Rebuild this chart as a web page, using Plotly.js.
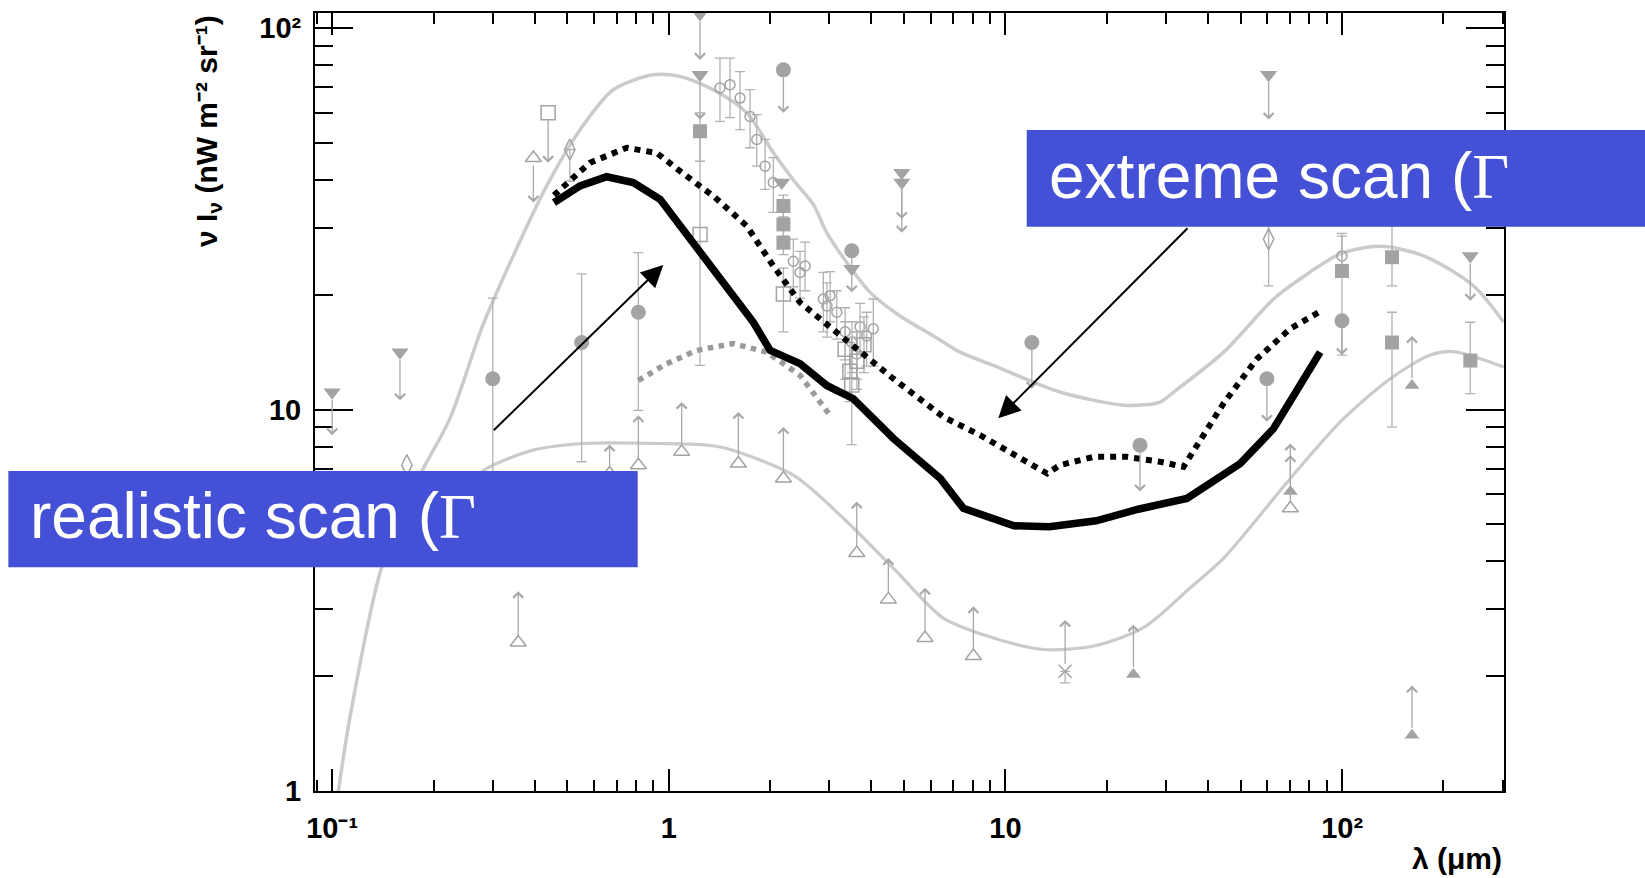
<!DOCTYPE html>
<html>
<head>
<meta charset="utf-8">
<script src="https://cdn.plot.ly/plotly-3.0.1.min.js"></script>
<style>html,body{margin:0;padding:0;background:#fff;}#chart{width:1645px;height:878px;}</style>
</head>
<body>
<div id="chart"></div>
<script>
// ---------------- data ----------------
// wavelength in micrometres, intensity in nW m^-2 sr^-1
const solidX = [0.456,0.545,0.654,0.784,0.942,1.08,1.238,1.486,1.783,2.0,2.454,2.945,3.534,4.647,6.4,7.5,9.2,10.6,13.5,18.6,24.8,34.6,49.8,62.6,86.1];
const solidY = [34.9,38.6,40.8,39.4,35.6,30.3,25.8,21.1,16.95,14.3,13.2,11.57,10.68,8.4,6.6,5.51,5.19,4.96,4.93,5.11,5.48,5.85,7.22,8.92,14.15];

const extremeX = [0.456,0.583,0.75,0.921,1.08,1.356,1.704,2.044,2.454,3.155,3.963,4.647,6.54,8.41,13.3,14.5,18.3,22.9,28.8,33.8,44.5,55.9,70.2,87.2];
const extremeY = [36.5,44.4,48.6,47.1,42.2,36.3,30.3,23.8,19.1,15.96,13.45,12.05,9.57,8.57,6.80,7.15,7.52,7.52,7.30,7.08,10.4,13.6,16.3,18.2];

const grayDotX = [0.812,0.986,1.21,1.555,1.954,2.454,3.013];
const grayDotY = [11.93,13.2,14.3,14.9,14.15,12.3,9.66];

const upperModelX = [0.104,0.1129,0.14,0.178,0.2237,0.28,0.345,0.4337,0.545,0.684,0.899,1.08,1.356,1.704,2.05,2.344,2.688,2.945,3.379,3.963,4.864,6.11,7.33,9.21,14.5,22.9,28.8,31.6,44.5,62.6,75,98.8,129.9,174.7,245.9,302];
const upperModelY = [0.98,1.56,3.84,6.47,9.47,16.6,25.3,38.6,54.2,69,75.5,74.7,69,60,47,40,34.5,29.1,24.3,20.3,17.6,15.6,14.15,13.06,11.12,10.26,10.47,11.12,14.15,19.5,22,25.6,26.8,25.3,21.1,16.95];

const lowerModelX = [0.25,0.2877,0.3957,0.557,0.942,1.238,1.486,2.344,3.30,4.647,6.54,9.21,12.97,18.3,25.7,35.4,44.5,70.2,98.8,139,182.8,214.5,257.5,302];
const lowerModelY = [6.3,7.01,7.83,8.15,8.15,8.1,7.91,6.73,5.19,3.84,2.84,2.52,2.35,2.40,2.68,3.41,4.08,6.60,9.29,12.05,13.9,14.2,13.6,12.93];

// measurements: value, error-bar ends (hi/lo), limit-arrow end (lim)
const fCircX   = [0.3,0.551,0.812,2.19,3.495,11.98,25.1,59.8,99.9];
const fCircY   = [12.05,15.0,18.0,77.8,26.1,15.0,8.07,12.05,17.1];
const fCircHi  = [19.6,22.7,25.8,null,null,null,null,null,null];
const fCircLo  = [6.5,7.3,9.96,null,null,null,null,null,null];
const fCircLim = [null,null,null,60.0,20.3,11.34,6.10,9.29,13.9];

const invTriX   = [0.1,0.159,1.238,1.238,2.165,3.495,4.92,4.92,60.5,240.4];
const invTriY   = [11.1,14.15,109,75.5,39.4,23.4,41.8,39.4,75.5,25.3];
const invTriLim = [8.57,10.58,82.6,57.6,null,null,31.6,29.1,57.6,19.3];

const oSqX   = [0.438,1.238,2.19,3.34,3.45,3.62,3.8,3.495];
const oSqY   = [60.0,28.8,20.1,14.4,12.6,13.4,14.8,11.6];
const oSqHi  = [null,53.7,23.5,17,15,16,17.5,15.5];
const oSqLo  = [null,13.06,16.0,12,10.5,11.3,12.5,8.1];
const oSqLim = [44.4,null,null,null,null,null,null,null];

const fSqX  = [1.238,2.19,2.19,2.19,99.9,140.7,140.7,240.4];
const fSqY  = [53.7,34.2,30.6,27.4,23.1,25.1,15.0,13.45];
const fSqHi = [60,36.5,33,29.5,29.0,30.3,18.0,16.95];
const fSqLo = [44.8,32,28.5,25.5,13.9,21.1,9.0,11.01];

const oTriX   = [0.396,0.357,0.667,0.812,1.092,1.609,2.19,3.617,4.49,5.77,8.03,70.2];
const oTriY   = [45.7,2.45,6.8,7.15,7.75,7.22,6.60,4.21,3.18,2.52,2.26,5.51];
const oTriLim = [34.9,3.34,8.1,9.66,10.47,9.86,9.01,5.74,4.08,3.41,3.05,8.15];

const fTriX   = [24.0,70.2,161.3,161.3];
const fTriY   = [2.02,6.10,11.57,1.40];
const fTriLim = [2.73,7.6,15.6,1.89];

const crossX = [15.04], crossY = [2.06], crossLo = [1.92], crossLim = [2.81];

const oDiaX  = [0.1667,0.508,60.5];
const oDiaY  = [7.15,48.1,28.0];
const oDiaHi = [null,null,33];
const oDiaLo = [null,39.7,21.1];

const oCircX  = [1.419,1.52,1.628,1.743,1.825,1.932,2.044,2.344,2.454,2.54,2.878,2.95,3.013,3.155,3.34,3.5,3.62,3.7,3.87,4.05,99.9];
const oCircY  = [69.7,71.1,65.6,58.7,51.1,43.5,39.4,24.5,22.9,23.8,19.5,18.7,19.9,18.0,16.0,15.0,14.0,16.5,15.6,16.3,25.3];
const oCircHi = [83.5,83.5,77.0,69.0,59.4,51.1,45.8,28,26,27.5,22.9,21.5,23,20.5,18.5,17,16,19,18,19.5,28.5];
const oCircLo = [57.0,58.3,54.2,48.6,43.5,37.8,32.9,21,19.6,20.5,16.0,15.5,17,15.3,13.5,12.5,12,14,13,13,22.5];

const xTickVals = [0.1,1,10,100];
const xTickText = ['10⁻¹','1','10','10²'];
const yTickVals = [1,10,100];
const yTickText = ['1','10','10²'];

// ---------------- styling ----------------
const FONT = 'Liberation Sans, Arial, Helvetica, sans-serif';
const SERIF = "'Liberation Serif','Times New Roman',serif";
const MK = '#a3a3a3';
const ERR = '#b2b2b2';
const ARROW = '#a8a8a8';
const BLUE = '#4450d5';

function errY(y, hi, lo) {
  return {
    type: 'data', symmetric: false, visible: true,
    array: y.map((v, i) => (hi && hi[i] != null) ? hi[i] - v : NaN),
    arrayminus: y.map((v, i) => (lo && lo[i] != null) ? v - lo[i] : NaN),
    color: ERR, thickness: 1.3, width: 5
  };
}
function pts(x, y, symbol, size, hi, lo, open) {
  const t = {
    type: 'scatter', mode: 'markers', x: x, y: y, hoverinfo: 'skip',
    marker: { symbol: symbol, size: size, color: MK,
              line: { color: MK, width: open ? 1.5 : 0 } }
  };
  if (hi || lo) t.error_y = errY(y, hi, lo);
  return t;
}

const traces = [
  { type: 'scatter', mode: 'lines', x: upperModelX, y: upperModelY, hoverinfo: 'skip',
    line: { color: '#cbcbcb', width: 3.5, shape: 'spline', smoothing: 0.8 } },
  { type: 'scatter', mode: 'lines', x: lowerModelX, y: lowerModelY, hoverinfo: 'skip',
    line: { color: '#cbcbcb', width: 3.2, shape: 'spline', smoothing: 0.8 } },
  pts(oCircX, oCircY, 'circle-open', 10, oCircHi, oCircLo, true),
  pts(oSqX, oSqY, 'square-open', 14, oSqHi, oSqLo, true),
  pts(fSqX, fSqY, 'square', 14, fSqHi, fSqLo, false),
  pts(fCircX, fCircY, 'circle', 15, fCircHi, fCircLo, false),
  pts(invTriX, invTriY, 'triangle-down', 15, null, null, false),
  pts(oTriX, oTriY, 'triangle-up-open', 14, null, null, true),
  pts(fTriX, fTriY, 'triangle-up', 13, null, null, false),
  pts(crossX, crossY, 'x-thin-open', 13, null, crossLo, true),
  pts(oDiaX, oDiaY, 'diamond-tall-open', 15, oDiaHi, oDiaLo, true),
  { type: 'scatter', mode: 'lines', x: grayDotX, y: grayDotY, hoverinfo: 'skip',
    line: { color: '#9a9a9a', width: 5.5, dash: 'dot' } },
  { type: 'scatter', mode: 'lines', x: extremeX, y: extremeY, hoverinfo: 'skip',
    line: { color: '#000', width: 6, dash: 'dot' } },
  { type: 'scatter', mode: 'lines', x: solidX, y: solidY, hoverinfo: 'skip',
    line: { color: '#000', width: 7.5 } }
];

// upper / lower limit arrows, from the value to the limit end (log axes take log10 positions)
function limitArrows(xs, ys, lims) {
  const out = [];
  xs.forEach((x, i) => {
    const t = lims[i];
    if (t == null) return;
    out.push({ x: Math.log10(x), y: Math.log10(t), xref: 'x', yref: 'y',
      ax: Math.log10(x), ay: Math.log10(ys[i]), axref: 'x', ayref: 'y',
      text: '', showarrow: true, arrowhead: 4, arrowsize: 1.5, arrowwidth: 1.3,
      arrowcolor: ARROW, standoff: 0, startstandoff: 6 });
  });
  return out;
}

function minorVals(lo, hi) {
  const v = [];
  for (let e = lo; e <= hi; e++) for (let d = 2; d <= 9; d++) v.push(d * Math.pow(10, e));
  return v;
}

const tickFont = { family: FONT, size: 29, color: '#000', weight: 'bold' };

const annotations = [].concat(
  limitArrows(fCircX, fCircY, fCircLim),
  limitArrows(invTriX, invTriY, invTriLim),
  limitArrows(oSqX, oSqY, oSqLim),
  limitArrows(oTriX, oTriY, oTriLim),
  limitArrows(fTriX, fTriY, fTriLim),
  limitArrows(crossX, crossY, crossLim),
  [
    // axis titles
    { xref: 'paper', yref: 'paper', x: -0.09, y: 1.0, xanchor: 'center', yanchor: 'top',
      textangle: -90, showarrow: false,
      text: 'ν I<span style="font-size:21px;baseline-shift:-22%">ν</span> (nW m⁻² sr⁻¹)',
      font: { family: FONT, size: 30, color: '#000', weight: 'bold' } },
    { xref: 'paper', yref: 'paper', x: 1.0, y: -0.087, xanchor: 'right', yanchor: 'middle',
      showarrow: false, text: 'λ (μm)',
      font: { family: FONT, size: 30, color: '#000', weight: 'bold' } },
    // pointer arrows
    { xref: 'paper', yref: 'paper', x: 0.2929, y: 0.6761, ax: -171, ay: 166.7, text: '',
      showarrow: true, arrowhead: 2, arrowsize: 2.2, arrowwidth: 2, arrowcolor: '#000', standoff: 0 },
    { xref: 'paper', yref: 'paper', x: 0.5747, y: 0.4790, ax: 190.7, ay: -191.6, text: '',
      showarrow: true, arrowhead: 2, arrowsize: 2.2, arrowwidth: 2, arrowcolor: '#000', standoff: 0 },
    // box labels
    { xref: 'paper', yref: 'paper', x: -0.2414, y: 0.353, xanchor: 'left', yanchor: 'middle',
      showarrow: false,
      text: 'realistic scan (<span style="font-family:' + SERIF + '">Γ</span>',
      font: { family: FONT, size: 64, color: '#fff' } },
    { xref: 'paper', yref: 'paper', x: 0.6154, y: 0.791, xanchor: 'left', yanchor: 'middle',
      showarrow: false,
      text: 'extreme scan (<span style="font-family:' + SERIF + '">Γ</span>',
      font: { family: FONT, size: 64, color: '#fff' } }
  ]
);

const layout = {
  width: 1645, height: 878,
  margin: { l: 315, r: 141, t: 13, b: 87, pad: 0 },
  paper_bgcolor: '#fff', plot_bgcolor: '#fff',
  showlegend: false,
  font: { family: FONT, color: '#000' },
  xaxis: {
    type: 'log', range: [-1.051, 2.481], showgrid: false, zeroline: false,
    showline: true, linecolor: '#000', linewidth: 2, mirror: 'ticks',
    ticks: 'inside', ticklen: 22, tickwidth: 2, tickcolor: '#000',
    tickmode: 'array', tickvals: xTickVals, ticktext: xTickText,
    tickfont: tickFont, ticklabelstandoff: 10,
    minor: { ticks: 'inside', ticklen: 11, tickwidth: 2, tickcolor: '#000',
             tickmode: 'array', tickvals: minorVals(-2, 2), showgrid: false }
  },
  yaxis: {
    type: 'log', range: [0, 2.04], showgrid: false, zeroline: false,
    showline: true, linecolor: '#000', linewidth: 2, mirror: 'ticks',
    ticks: 'inside', ticklen: 38, tickwidth: 2, tickcolor: '#000',
    tickmode: 'array', tickvals: yTickVals, ticktext: yTickText,
    tickfont: tickFont, ticklabelstandoff: 6,
    minor: { ticks: 'inside', ticklen: 18, tickwidth: 2, tickcolor: '#000',
             tickmode: 'array', tickvals: minorVals(-1, 2), showgrid: false }
  },
  shapes: [
    { type: 'rect', xref: 'paper', yref: 'paper', x0: -0.2579, x1: 0.2714, y0: 0.2875, y1: 0.4113,
      fillcolor: BLUE, line: { width: 0 }, layer: 'above' },
    { type: 'rect', xref: 'paper', yref: 'paper', x0: 0.5986, x1: 1.12, y0: 0.7253, y1: 0.8496,
      fillcolor: BLUE, line: { width: 0 }, layer: 'above' }
  ],
  annotations: annotations
};

Plotly.newPlot('chart', traces, layout, { displayModeBar: false, staticPlot: true });
</script>
</body>
</html>
